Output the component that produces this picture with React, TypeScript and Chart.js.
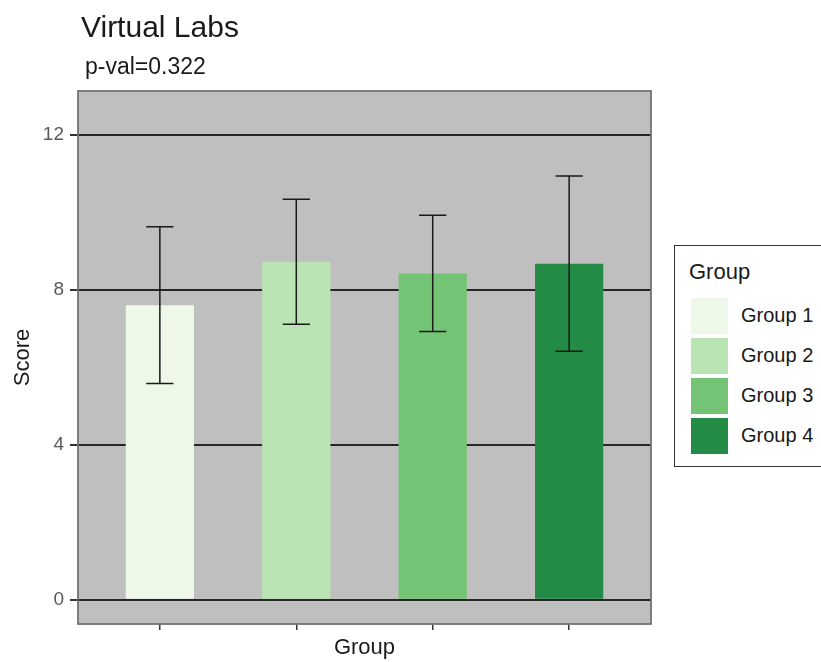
import React, { useEffect, useRef } from "react";
import { Chart, registerables } from "chart.js";

Chart.register(...registerables);

const groups = ["Group 1", "Group 2", "Group 3", "Group 4"];
const positions = [1, 2, 3, 4];
const means = [7.6, 8.72, 8.42, 8.67];
const errors = [2.02, 1.61, 1.5, 2.26];
const colors = ["#EDF8E9", "#BAE4B3", "#74C476", "#238B45"];
const yTicks = [0, 4, 8, 12];
const chartTitle = "Virtual Labs";
const chartSubtitle = "p-val=0.322";
const xTitle = "Group";
const yTitle = "Score";
const legendTitle = "Group";

const FONT = '"Liberation Sans", Arial, Helvetica, sans-serif';

const panelPlugin = {
  id: "panelPlugin",
  beforeDraw(chart: any) {
    const { ctx, chartArea: a } = chart;
    ctx.save();
    ctx.fillStyle = "#BFBFBF";
    ctx.fillRect(a.left, a.top, a.right - a.left, a.bottom - a.top);
    ctx.restore();
  },
  afterDatasetsDraw(chart: any) {
    const { ctx } = chart;
    const xs = chart.scales.x;
    const ys = chart.scales.y;
    ctx.save();
    ctx.strokeStyle = "#1a1a1a";
    ctx.lineWidth = 1.5;
    for (let i = 0; i < means.length; i++) {
      const x = xs.getPixelForValue(positions[i]);
      const half = xs.getPixelForValue(positions[i] + 0.1) - x;
      const yHi = ys.getPixelForValue(means[i] + errors[i]);
      const yLo = ys.getPixelForValue(means[i] - errors[i]);
      ctx.beginPath();
      ctx.moveTo(x, yHi);
      ctx.lineTo(x, yLo);
      ctx.moveTo(x - half, yHi);
      ctx.lineTo(x + half, yHi);
      ctx.moveTo(x - half, yLo);
      ctx.lineTo(x + half, yLo);
      ctx.stroke();
    }
    ctx.restore();
  },
  afterDraw(chart: any) {
    const { ctx, chartArea: a } = chart;
    ctx.save();
    ctx.strokeStyle = "#737373";
    ctx.lineWidth = 1.8;
    ctx.strokeRect(a.left, a.top, a.right - a.left, a.bottom - a.top);
    ctx.fillStyle = "#1a1a1a";
    ctx.textAlign = "left";
    ctx.textBaseline = "alphabetic";
    ctx.font = `30px ${FONT}`;
    ctx.fillText(chartTitle, a.left + 3, 37);
    ctx.font = `23px ${FONT}`;
    ctx.fillText(chartSubtitle, a.left + 7, 74);
    ctx.restore();
  },
};

export default function App() {
  const canvasRef = useRef<HTMLCanvasElement | null>(null);

  useEffect(() => {
    if (!canvasRef.current) return;
    const chart = new Chart(canvasRef.current, {
      type: "bar",
      data: {
        datasets: [
          {
            label: yTitle,
            data: positions.map((p, i) => ({ x: p, y: means[i] })),
            backgroundColor: colors,
            borderWidth: 0,
            barPercentage: 0.5,
            categoryPercentage: 1,
          },
        ],
      },
      options: {
        animation: false,
        responsive: true,
        maintainAspectRatio: false,
        layout: { padding: { top: 91, right: 170, bottom: 0, left: 0 } },
        plugins: {
          legend: { display: false },
          tooltip: { enabled: false },
          title: { display: false },
        },
        scales: {
          x: {
            type: "linear",
            min: 0.4,
            max: 4.6,
            offset: false,
            afterBuildTicks: (scale: any) => {
              scale.ticks = positions.map((v) => ({ value: v }));
            },
            afterFit: (scale: any) => {
              scale.height = 38;
            },
            border: { display: false },
            grid: {
              display: true,
              offset: false,
              drawOnChartArea: false,
              drawTicks: true,
              tickLength: 6,
              tickColor: "#333333",
              lineWidth: 1.5,
            },
            ticks: { display: false },
            title: {
              display: true,
              text: xTitle,
              color: "#1a1a1a",
              font: { family: FONT, size: 22 },
              padding: { top: 0, bottom: 1 },
            },
          },
          y: {
            type: "linear",
            min: -0.625,
            max: 13.125,
            afterBuildTicks: (scale: any) => {
              scale.ticks = yTicks.map((v) => ({ value: v }));
            },
            afterFit: (scale: any) => {
              scale.width = 78;
            },
            border: { display: false },
            grid: {
              color: "#262626",
              lineWidth: 2,
              drawTicks: true,
              tickLength: 8,
              tickColor: "#333333",
            },
            ticks: {
              color: "#5a5a5a",
              padding: 6,
              font: { family: FONT, size: 19 },
            },
            title: {
              display: true,
              text: yTitle,
              color: "#1a1a1a",
              font: { family: FONT, size: 22 },
              padding: { top: 10, bottom: 0 },
            },
          },
        },
      },
      plugins: [panelPlugin],
    } as any);
    return () => chart.destroy();
  }, []);

  return (
    <div style={{ position: "fixed", left: 0, top: 0, width: 821, height: 662, background: "#fff", overflow: "hidden" }}>
      <canvas ref={canvasRef} style={{ position: "absolute", left: 0, top: 0 }} />
      <div
        style={{
          position: "absolute",
          left: 674,
          top: 245,
          width: 170,
          height: 222,
          border: "1.8px solid #333",
          boxSizing: "border-box",
          background: "#fff",
        }}
      />
      <div
        style={{
          position: "absolute",
          left: 689,
          top: 261,
          fontFamily: FONT,
          fontSize: 22,
          lineHeight: "22px",
          color: "#1a1a1a",
          whiteSpace: "nowrap",
        }}
      >
        {legendTitle}
      </div>
      {groups.map((g, i) => (
        <React.Fragment key={g}>
          <div
            style={{
              position: "absolute",
              left: 691,
              top: 298 + i * 40,
              width: 37,
              height: 36,
              background: colors[i],
            }}
          />
          <div
            style={{
              position: "absolute",
              left: 741,
              top: 305 + i * 40,
              fontFamily: FONT,
              fontSize: 20,
              lineHeight: "20px",
              color: "#1a1a1a",
              whiteSpace: "nowrap",
            }}
          >
            {g}
          </div>
        </React.Fragment>
      ))}
    </div>
  );
}
